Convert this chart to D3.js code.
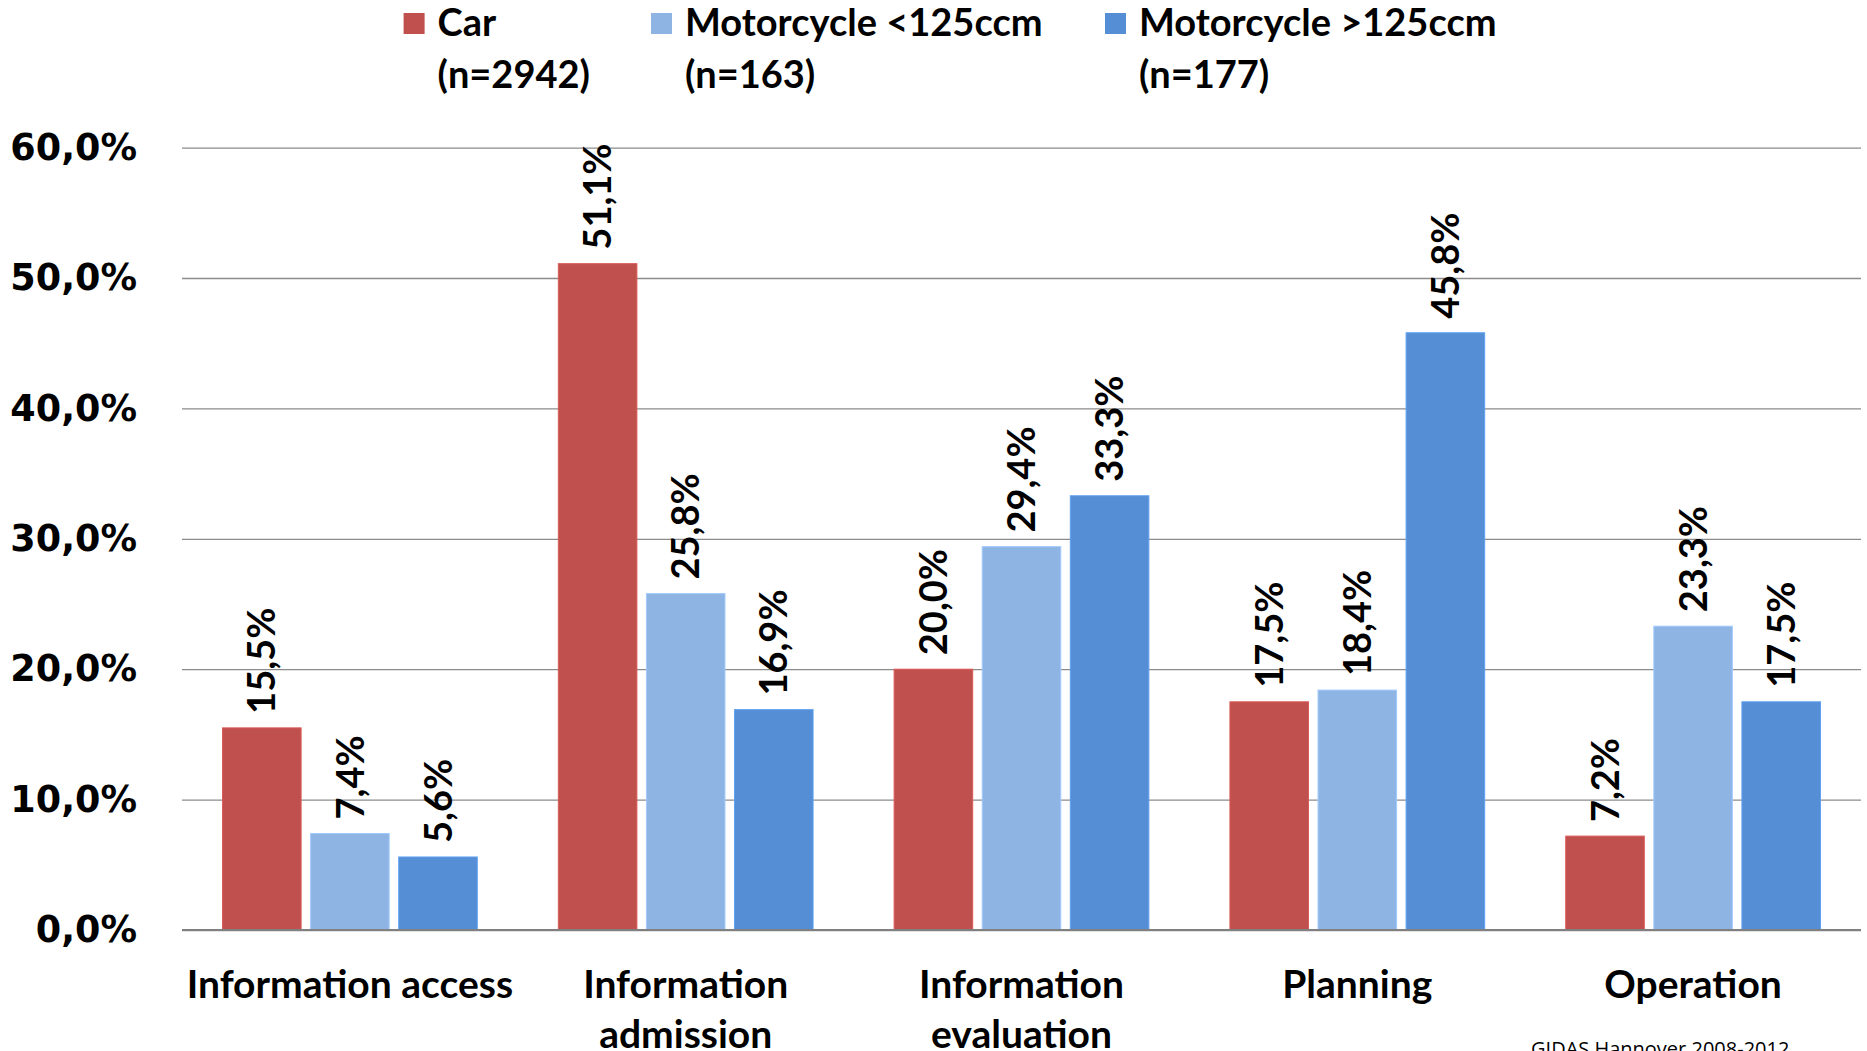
<!DOCTYPE html>
<html>
<head>
<meta charset="utf-8">
<script src="https://cdn.jsdelivr.net/npm/d3@7"></script>
<style>
  html, body { margin: 0; padding: 0; background: #fff; }
  svg { display: block; }
</style>
</head>
<body>
<svg id="chart" width="1867" height="1051"></svg>
<script>
// Share of accidents per task-level category, by vehicle type
const categories = [
  ["Information access"],
  ["Information", "admission"],
  ["Information", "evaluation"],
  ["Planning"],
  ["Operation"]
];
const seriesNames = ["Car", "Motorcycle <125ccm", "Motorcycle >125ccm"];
const seriesCounts = ["(n=2942)", "(n=163)", "(n=177)"];
const seriesColors = ["#C0504D", "#8EB4E3", "#558ED5"];
const carValues = [15.5, 51.1, 20.0, 17.5, 7.2];
const motoSmallValues = [7.4, 25.8, 29.4, 18.4, 23.3];
const motoLargeValues = [5.6, 16.9, 33.3, 45.8, 17.5];
const yTicks = [0, 10, 20, 30, 40, 50, 60];
const sourceNote = "GIDAS Hannover 2008-2012";

const series = [carValues, motoSmallValues, motoLargeValues];
const labelFont = "Lato, 'Open Sans', sans-serif";
const comma = v => d3.format(".1f")(v).replace(".", ",") + "%";

const svg = d3.select("#chart");
const plot = { left: 182, right: 1861, top: 147.6, bottom: 930 };

const y = d3.scaleLinear().domain([0, 60]).range([plot.bottom, plot.top]);
const x0 = d3.scaleBand().domain(d3.range(categories.length))
  .range([plot.left, plot.right]).paddingInner(0).paddingOuter(0);
const x1 = d3.scaleBand().domain(d3.range(series.length))
  .range([0, x0.bandwidth()]).paddingInner(0.108).paddingOuter(0.46);

// Horizontal gridlines and value axis labels
const yAxis = d3.axisLeft(y).tickValues(yTicks)
  .tickSize(-(plot.right - plot.left)).tickFormat(v => comma(v)).tickPadding(45);
const yg = svg.append("g").attr("transform", `translate(${plot.left},0)`).call(yAxis);
yg.select(".domain").remove();
yg.selectAll(".tick line").attr("stroke", "#8c8c8c").attr("stroke-width", 1.3);
yg.selectAll(".tick text")
  .attr("font-family", "'DejaVu Sans', Verdana, sans-serif")
  .attr("font-weight", "bold").attr("font-size", 36.5).attr("fill", "#000");

// Bars with rotated value labels
const groups = svg.append("g").selectAll("g").data(categories).join("g")
  .attr("transform", (d, i) => `translate(${x0(i)},0)`);

groups.each(function (cat, ci) {
  const g = d3.select(this);
  series.forEach((vals, si) => {
    const v = vals[ci];
    g.append("rect")
      .attr("x", x1(si)).attr("width", x1.bandwidth())
      .attr("y", y(v)).attr("height", y(0) - y(v))
      .attr("fill", seriesColors[si])
      .attr("stroke", d3.color(seriesColors[si]).brighter(0.35))
      .attr("stroke-width", 1);
    const cx = x1(si) + x1.bandwidth() / 2;
    g.append("text")
      .attr("transform", `translate(${cx},${y(v) - 14}) rotate(-90)`)
      .attr("dy", "0.36em")
      .attr("font-family", labelFont).attr("font-weight", "bold")
      .attr("font-size", 38).attr("fill", "#000")
      .text(comma(v));
  });
});

// Baseline
svg.append("line")
  .attr("x1", plot.left).attr("x2", plot.right)
  .attr("y1", y(0)).attr("y2", y(0))
  .attr("stroke", "#808080").attr("stroke-width", 2.2);

// Category labels
categories.forEach((lines, i) => {
  const cx = x0(i) + x0.bandwidth() / 2;
  const t = svg.append("text")
    .attr("x", cx).attr("y", 998)
    .attr("text-anchor", "middle")
    .attr("font-family", labelFont).attr("font-weight", "bold")
    .attr("font-size", 39).attr("fill", "#000");
  lines.forEach((ln, li) => {
    t.append("tspan").attr("x", cx).attr("dy", li === 0 ? 0 : 50).text(ln);
  });
});

// Legend
const legendX = [403.6, 651, 1105];
seriesNames.forEach((name, i) => {
  const lg = svg.append("g").attr("transform", `translate(${legendX[i]},0)`);
  lg.append("rect").attr("x", 0).attr("y", 13).attr("width", 21).attr("height", 21)
    .attr("fill", seriesColors[i]);
  const t = lg.append("text").attr("x", 34).attr("y", 36)
    .attr("font-family", labelFont).attr("font-weight", "bold")
    .attr("font-size", 38).attr("fill", "#000");
  t.append("tspan").attr("x", 34).text(name);
  t.append("tspan").attr("x", 34).attr("dy", 52).text(seriesCounts[i]);
});

// Source note
svg.append("text").attr("x", 1531).attr("y", 1056)
  .attr("font-family", "'Open Sans', sans-serif").attr("font-size", 20)
  .attr("fill", "#000").text(sourceNote);
</script>
</body>
</html>
